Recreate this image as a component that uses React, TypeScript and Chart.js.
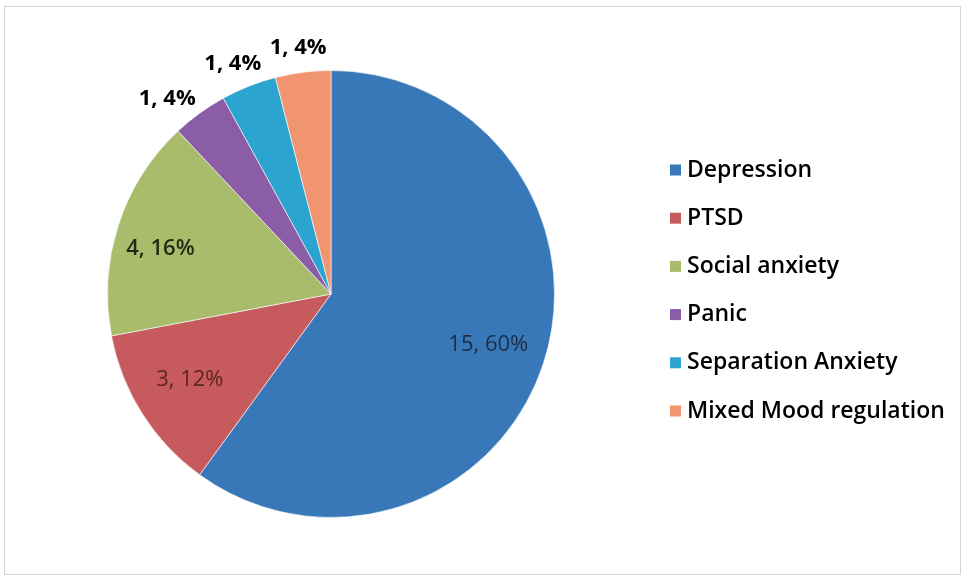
import React, { useEffect, useRef } from "react";
import { Chart, registerables } from "chart.js";

Chart.register(...registerables);

const categories = [
  "Depression",
  "PTSD",
  "Social anxiety",
  "Panic",
  "Separation Anxiety",
  "Mixed Mood regulation",
];
const counts = [15, 3, 4, 1, 1, 1];
const sliceColors = ["#3878b8", "#c75a5c", "#a9bc6b", "#8a5da6", "#2ba4cf", "#f19571"];
const labelColors = ["#1e2d45", "#5c2424", "#1f2a12", "#000000", "#000000", "#000000"];

const FONT = "'Open Sans', 'DejaVu Sans', sans-serif";

export default function App() {
  const ref = useRef<HTMLCanvasElement | null>(null);

  useEffect(() => {
    if (!ref.current) return;
    const total = counts.reduce((a, b) => a + b, 0);

    const labelPlugin = {
      id: "sliceLabels",
      afterDatasetsDraw(chart: any) {
        const ctx = chart.ctx;
        const meta = chart.getDatasetMeta(0);
        const angleAdj = [0, 1, -3, -4, -1.5, -0.4];
        const radFactor = [0.74, 0.74, 0.79, 1.14, 1.12, 1.11];
        const weights = [400, 400, 600, 700, 700, 700];
        const sizes = [22, 22, 22, 22, 22, 22];
        ctx.save();
        ctx.textAlign = "center";
        ctx.textBaseline = "middle";
        meta.data.forEach((el: any, i: number) => {
          const p = el.getProps(["x", "y", "startAngle", "endAngle", "outerRadius"], true);
          const mid = (p.startAngle + p.endAngle) / 2 + (angleAdj[i] * Math.PI) / 180;
          const r = p.outerRadius * radFactor[i];
          const x = p.x + Math.cos(mid) * r;
          const y = p.y + Math.sin(mid) * r;
          const pct = Math.round((counts[i] / total) * 100);
          ctx.font = `${weights[i]} ${sizes[i]}px ${FONT}`;
          ctx.fillStyle = labelColors[i];
          ctx.fillText(`${counts[i]}, ${pct}%`, x, y);
        });
        ctx.restore();
      },
    };

    const legendPlugin = {
      id: "sideLegend",
      afterDraw(chart: any) {
        const ctx = chart.ctx;
        ctx.save();
        ctx.textAlign = "left";
        ctx.textBaseline = "middle";
        ctx.font = `600 23px ${FONT}`;
        categories.forEach((name, i) => {
          const y = 170 + i * 48.2;
          ctx.fillStyle = sliceColors[i];
          ctx.fillRect(670, y - 5.5, 11, 11);
          ctx.fillStyle = "#000";
          ctx.fillText(name, 687, y);
        });
        ctx.restore();
      },
    };

    const chart = new Chart(ref.current, {
      type: "pie",
      data: {
        labels: categories,
        datasets: [
          {
            data: counts,
            backgroundColor: sliceColors,
            borderColor: "rgba(255,255,255,0.6)",
            borderWidth: 1,
          },
        ],
      },
      options: {
        animation: false,
        responsive: false,
        maintainAspectRatio: false,
        devicePixelRatio: 1,
        layout: { padding: { left: 107, top: 70, right: 409, bottom: 60 } },
        plugins: {
          legend: { display: false },
          tooltip: { enabled: false },
        },
      },
      plugins: [labelPlugin, legendPlugin],
    });
    return () => chart.destroy();
  }, []);

  return (
    <div style={{ position: "fixed", left: 0, top: 0, width: 964, height: 578, background: "#fff" }}>
      <div
        style={{
          position: "absolute",
          left: 4,
          top: 6,
          width: 955,
          height: 567,
          border: "1.5px solid #d4d4d4",
        }}
      />
      <canvas ref={ref} width={964} height={578} style={{ position: "absolute", left: 0, top: 0 }} />
    </div>
  );
}
